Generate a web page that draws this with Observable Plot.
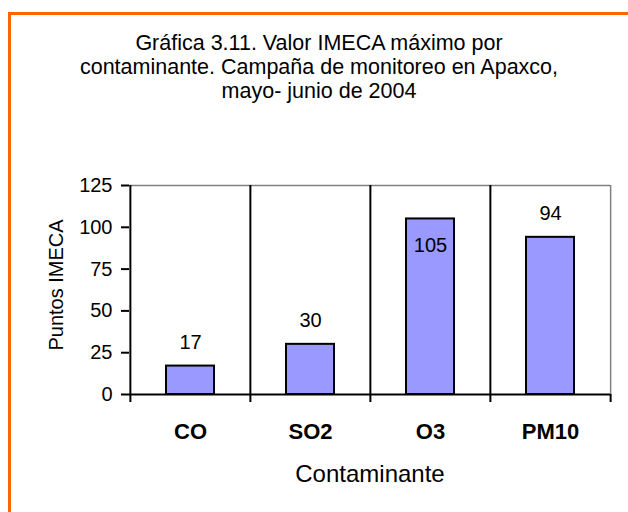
<!DOCTYPE html>
<html><head><meta charset="utf-8">
<script src="https://cdn.jsdelivr.net/npm/d3@7"></script>
<script src="https://cdn.jsdelivr.net/npm/@observablehq/plot@0.6"></script>
<style>
html,body{margin:0;padding:0;background:#fff;}
#wrap{position:relative;width:628px;height:512px;overflow:hidden;font-family:"Liberation Sans",Arial,sans-serif;background:#fff;}
#border{position:absolute;left:8px;top:12px;width:700px;height:600px;border:3px solid #ff6600;box-sizing:border-box;}
#title{position:absolute;left:0;top:0;width:638px;padding-top:31px;text-align:center;font-size:21.5px;line-height:24px;color:#000;}
#chart{position:absolute;left:0;top:140px;}
</style></head><body>
<div id="wrap"><div id="border"></div><div id="title"></div><div id="chart"></div></div>
<script>
const categories = ["CO", "SO2", "O3", "PM10"];
const values = [17, 30, 105, 94];
const yTicks = [0, 25, 50, 75, 100, 125];
const titleLines = ["Gráfica 3.11. Valor IMECA máximo por", "contaminante. Campaña de monitoreo en Apaxco,", "mayo- junio de 2004"];
const xTitle = "Contaminante";
const yTitle = "Puntos IMECA";

document.getElementById("title").innerHTML = titleLines.join("<br>");

const data = categories.map((c, i) => ({c, v: values[i]}));
const W = 628, H = 372, mL = 129, mR = 18, mT = 45, mB = 118;
const bw = (W - mL - mR) / categories.length;
const last = categories[categories.length - 1];
const yMax = yTicks[yTicks.length - 1];

const plot = Plot.plot({
  width: W, height: H,
  marginLeft: mL, marginRight: mR, marginTop: mT, marginBottom: mB,
  style: {fontFamily: "'Liberation Sans', Arial, sans-serif", fontSize: "20px", color: "#000", background: "transparent", overflow: "visible"},
  x: {domain: categories, padding: 0, label: null},
  y: {domain: [0, yMax], label: null},
  marks: [
    Plot.ruleY([yMax], {stroke: "#808080", strokeWidth: 1.5}),
    Plot.ruleX([last], {x: d => d, dx: bw / 2, stroke: "#808080", strokeWidth: 1.5}),
    Plot.ruleX([last], {x: d => d, y1: 0, y2: 0, dx: bw / 2, insetBottom: -8, stroke: "#000", strokeWidth: 2}),
    Plot.ruleX(categories, {x: d => d, dx: -bw / 2, insetBottom: -8, stroke: "#000", strokeWidth: 2}),
    Plot.barY(data, {x: "c", y: "v", fill: "#9999ff", stroke: "#000", strokeWidth: 2, insetLeft: 36, insetRight: 36}),
    Plot.ruleY([0], {stroke: "#000", strokeWidth: 2}),
    Plot.text(data.filter(d => d.v <= 100), {x: "c", y: "v", text: d => String(d.v), lineAnchor: "bottom", dy: -17, fontSize: 20}),
    Plot.text(data.filter(d => d.v > 100), {x: "c", y: "v", text: d => String(d.v), lineAnchor: "bottom", dy: 33, fontSize: 20}),
    Plot.axisY({ticks: yTicks, tickSize: 8, tickPadding: 9, strokeWidth: 2, fontSize: 20, label: null}),
    Plot.axisX({tickSize: 0, tickPadding: 29, fontSize: 22, fontWeight: "bold", label: null}),
    Plot.text([xTitle], {frameAnchor: "bottom", text: d => d, lineAnchor: "bottom", dy: 87, fontSize: 24}),
    Plot.text([yTitle], {frameAnchor: "left", text: d => d, rotate: -90, textAnchor: "middle", lineAnchor: "bottom", dx: -67, dy: -5, fontSize: 20})
  ]
});
document.getElementById("chart").appendChild(plot);
</script>
</body></html>
